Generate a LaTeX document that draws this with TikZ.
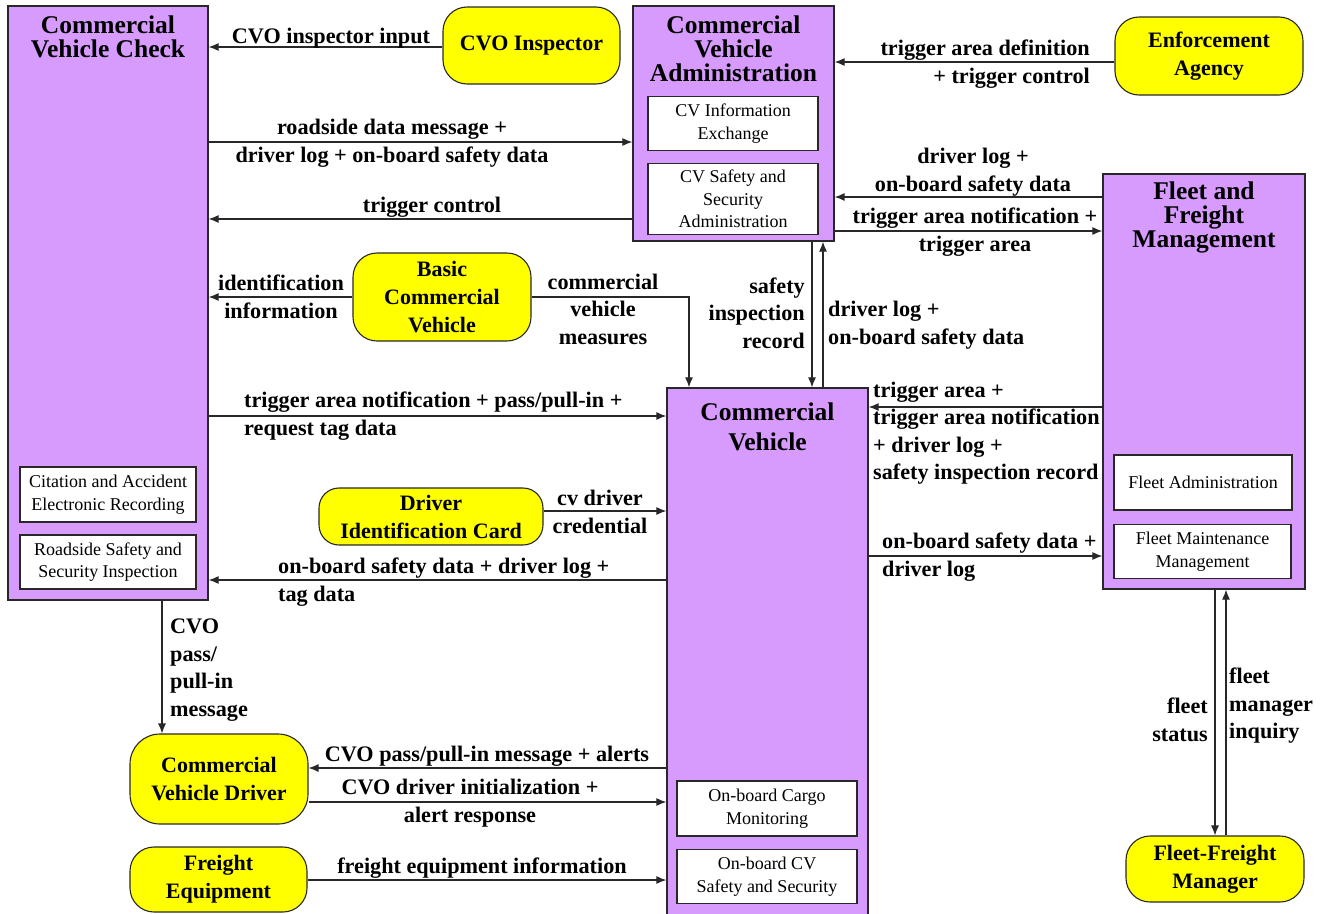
\documentclass[tikz,border=0pt]{standalone}
\usepackage{fontspec}
\setmainfont{Liberation Serif}
\usetikzlibrary{arrows.meta}
\definecolor{boxpurple}{RGB}{214,155,253}
\definecolor{extyellow}{RGB}{255,255,0}
\definecolor{edgegray}{RGB}{40,40,40}
\begin{document}
\begin{tikzpicture}[x=1pt,y=-1pt,
  sys/.style={draw=edgegray,line width=1.3pt,fill=boxpurple,inner sep=0pt},
  ext/.style={draw=edgegray,line width=1.1pt,fill=extyellow,rounded corners=24pt,inner sep=0pt,align=center,font=\fontsize{22}{28}\selectfont\bfseries},
  sub/.style={draw=edgegray,line width=1.1pt,fill=white,inner sep=0pt,align=center,font=\fontsize{18}{22.5}\selectfont},
  ttl/.style={align=center,font=\fontsize{25.5}{24}\selectfont\bfseries,inner sep=0pt},
  lbl/.style={font=\fontsize{22.2}{27.5}\selectfont\bfseries,inner sep=0pt,align=center},
  arr/.style={line width=1.1pt,draw=edgegray,-{Latex[length=10pt,width=8pt]}}]
\useasboundingbox (0,0) rectangle (1327,913);
\fill[white] (0,0) rectangle (1327,913);

% ---------- system boxes ----------
\node[sys,minimum width=200pt,minimum height=594pt] (cvc) at (108,303) {};
\node[ttl] (cvct) at (108,37) {Commercial\\Vehicle Check};
\node[sub,minimum width=176pt,minimum height=55pt] (caer) at (108,494.5) {Citation and Accident\\Electronic Recording};
\node[sub,minimum width=176pt,minimum height=54pt] (rssi) at (108,562) {Roadside Safety and\\Security Inspection};

\node[sys,minimum width=201pt,minimum height=235pt] (cva) at (733.5,123.5) {};
\node[ttl] (cvat) at (733.5,49) {Commercial\\Vehicle\\Administration};
\node[sub,minimum width=170pt,minimum height=54pt] (cvie) at (733,123.5) {CV Information\\Exchange};
\node[sub,minimum width=170pt,minimum height=71pt] (cvssa) at (733,199) {CV Safety and\\Security\\Administration};

\node[sys,minimum width=202pt,minimum height=415pt] (ffm) at (1204,381.5) {};
\node[ttl] (ffmt) at (1204,217) {Fleet and\\Freight\\Management};
\node[sub,minimum width=178pt,minimum height=55pt] (fa) at (1203,482.5) {Fleet Administration};
\node[sub,minimum width=177pt,minimum height=54pt] (fmm) at (1202.5,551.5) {Fleet Maintenance\\Management};

\node[sys,minimum width=201pt,minimum height=540pt] (cv) at (767.5,658) {};
\node[ttl,font=\fontsize{25.5}{30}\selectfont\bfseries] (cvt) at (767.5,427) {Commercial\\Vehicle};
\node[sub,minimum width=180pt,minimum height=55pt] (ocm) at (767,808.5) {On-board Cargo\\Monitoring};
\node[sub,minimum width=180pt,minimum height=54pt] (ocss) at (767,876.5) {On-board CV\\Safety and Security};

% ---------- external entities ----------
\node[ext,minimum width=177pt,minimum height=77pt] (cvoi) at (531.5,45.5) {CVO Inspector};
\node[ext,minimum width=188pt,minimum height=78pt] (ea) at (1209,56) {Enforcement\\Agency};
\node[ext,minimum width=178pt,minimum height=88pt] (bcv) at (442,297) {Basic\\Commercial\\Vehicle};
\node[ext,minimum width=224pt,minimum height=57pt,rounded corners=20pt] (dic) at (431,516.5) {Driver\\Identification Card};
\node[ext,minimum width=178pt,minimum height=90pt,rounded corners=30pt] (cvd) at (219,779) {Commercial\\Vehicle Driver};
\node[ext,minimum width=177pt,minimum height=65pt] (fe) at (218.5,879.5) {Freight\\Equipment};
\node[ext,minimum width=178pt,minimum height=66pt] (ffmgr) at (1215,869) {Fleet-Freight\\Manager};

% ---------- connectors ----------
\draw[arr] (cvoi.west |- 0,47) -- (cvc.east |- 0,47);
\draw[arr] (cvc.east |- 0,142) -- (cva.west |- 0,142);
\draw[arr] (cva.west |- 0,219) -- (cvc.east |- 0,219);
\draw[arr] (ea.west |- 0,62) -- (cva.east |- 0,62);
\draw[arr] (ffm.west |- 0,197) -- (cva.east |- 0,197);
\draw[arr] (cva.east |- 0,231) -- (ffm.west |- 0,231);
\draw[arr] (bcv.west |- 0,297) -- (cvc.east |- 0,297);
\draw[arr] (bcv.east |- 0,297) -- (689,297) -- (cv.north -| 689,0);
\draw[arr] (cva.south -| 812,0) -- (cv.north -| 812,0);
\draw[arr] (cv.north -| 823,0) -- (cva.south -| 823,0);
\draw[arr] (cvc.east |- 0,416) -- (cv.west |- 0,416);
\draw[arr] (ffm.west |- 0,407) -- (cv.east |- 0,407);
\draw[arr] (dic.east |- 0,511) -- (cv.west |- 0,511);
\draw[arr] (cv.west |- 0,580) -- (cvc.east |- 0,580);
\draw[arr] (cv.east |- 0,556) -- (ffm.west |- 0,556);
\draw[arr] (cvc.south -| 162,0) -- (cvd.north -| 162,0);
\draw[arr] (cv.west |- 0,768) -- (cvd.east |- 0,768);
\draw[arr] (cvd.east |- 0,802) -- (cv.west |- 0,802);
\draw[arr] (fe.east |- 0,880) -- (cv.west |- 0,880);
\draw[arr] (ffm.south -| 1215,0) -- (ffmgr.north -| 1215,0);
\draw[arr] (ffmgr.north -| 1226,0) -- (ffm.south -| 1226,0);

% ---------- labels ----------
\node[lbl] (l1) at (331,38) {CVO inspector input};
\node[lbl] (l2) at (392,143) {roadside data message +\\driver log + on-board safety data};
\node[lbl] (l3) at (432,207) {trigger control};
\node[lbl,align=right,anchor=east] (l4) at (1090,64) {trigger area definition\\+ trigger control};
\node[lbl] (l5) at (973,172) {driver log +\\on-board safety data};
\node[lbl] (l6) at (975,232) {trigger area notification +\\trigger area};
\node[lbl] (l7) at (281,297) {identification\\information};
\node[lbl] (l8) at (603,309) {commercial\\vehicle\\measures};
\node[lbl,align=right,anchor=east] (l9) at (805,313) {safety\\inspection\\record};
\node[lbl,align=left,anchor=west] (l10) at (828,325) {driver log +\\on-board safety data};
\node[lbl,align=left,anchor=west] (l11) at (244,416) {trigger area notification + pass/pull-in +\\request tag data};
\node[lbl,align=left,anchor=west] (l12) at (873,433) {trigger area +\\trigger area notification\\+ driver log +\\safety inspection record};
\node[lbl] (l13) at (600,512) {cv driver\\credential};
\node[lbl,align=left,anchor=west] (l14) at (278,582) {on-board safety data + driver log +\\tag data};
\node[lbl,align=left,anchor=west] (l15) at (882,557) {on-board safety data +\\driver log};
\node[lbl,align=left,anchor=west] (l16) at (170,670) {CVO\\pass/\\pull-in\\message};
\node[lbl] (l17) at (487,756) {CVO pass/pull-in message + alerts};
\node[lbl] (l18) at (470,803) {CVO driver initialization +\\alert response};
\node[lbl] (l19) at (482,868) {freight equipment information};
\node[lbl,align=right,anchor=east] (l20) at (1208,720) {fleet\\status};
\node[lbl,align=left,anchor=west] (l21) at (1229,706) {fleet\\manager\\inquiry};
\end{tikzpicture}
\end{document}
